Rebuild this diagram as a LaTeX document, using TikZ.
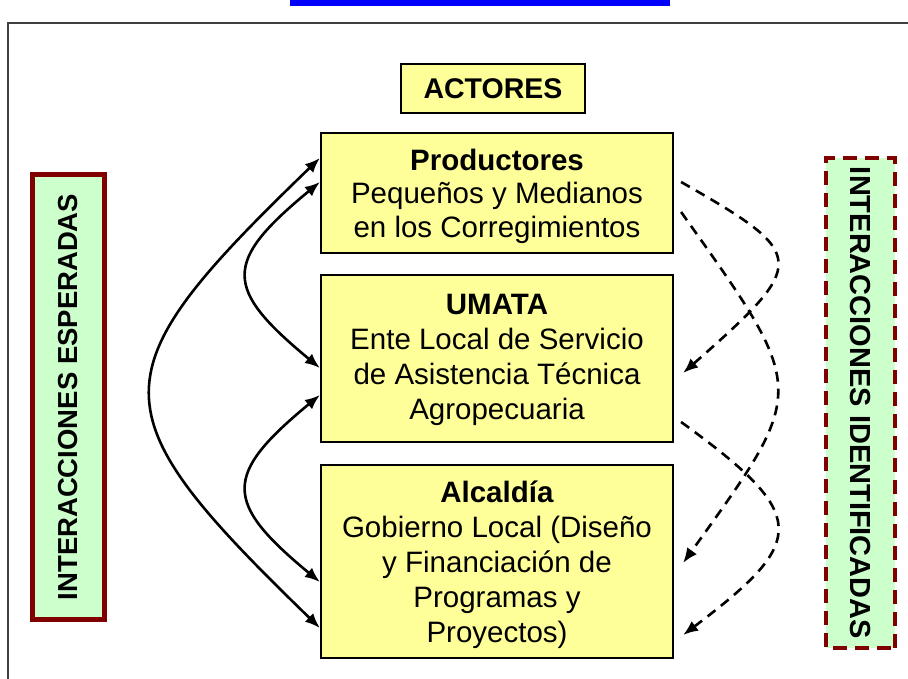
\documentclass[tikz,border=0pt]{standalone}
\usepackage{fontspec}
\setmainfont{Liberation Sans}
\usetikzlibrary{arrows.meta}
\definecolor{boxyellow}{HTML}{FFFF99}
\definecolor{sidegreen}{HTML}{CCFFCC}
\definecolor{darkred}{HTML}{800000}
\definecolor{linkblue}{HTML}{0000FF}
\begin{document}
\begin{tikzpicture}[x=1pt,y=-1pt,
  actorbox/.style={draw=black, line width=2.2pt, fill=boxyellow, inner sep=0pt},
  actortext/.style={align=center, inner sep=0pt, font=\fontsize{29.5}{35}\selectfont},
  sidebox/.style={draw=darkred, fill=sidegreen, inner sep=0pt, font=\bfseries\fontsize{27.5}{30}\selectfont},
  both/.style={line width=2.6pt, {Latex[length=15pt,width=12pt]}-{Latex[length=15pt,width=12pt]}},
  dashedarrow/.style={line width=2.6pt, dash pattern=on 10pt off 7pt, -{Latex[length=15pt,width=12pt]}},
]
\useasboundingbox (0,0) rectangle (908,679);
\node[fill=linkblue, inner sep=0pt, minimum width=380pt, minimum height=6pt] (link) at (480,3) {};
\draw[line width=2pt, black!75] (8,679) -- (8,23) -- (908,23);

\node[actorbox, minimum width=184pt, minimum height=49pt, font=\bfseries\fontsize{28.5}{30}\selectfont] (actores) at (493,88.5) {ACTORES};

\node[actorbox, minimum width=352pt, minimum height=120pt] (prod) at (497,193) {};
\node[actortext, font=\fontsize{29.5}{33.5}\selectfont] (prodtext) at ([yshift=-3pt]prod.center)
  {\textbf{Productores}\\Pequeños y Medianos\\en los Corregimientos};
\node[actorbox, minimum width=352pt, minimum height=167pt] (umata) at (497,358.5) {};
\node[actortext] (umatatext) at ([yshift=-1pt]umata.center)
  {\textbf{UMATA}\\Ente Local de Servicio\\de Asistencia Técnica\\Agropecuaria};
\node[actorbox, minimum width=352pt, minimum height=193pt] (alc) at (497,561.5) {};
\node[actortext] (alctext) at ([yshift=-3pt]alc.center)
  {\textbf{Alcaldía}\\Gobierno Local (Diseño\\y Financiación de\\Programas y\\Proyectos)};

\node[sidebox, line width=5pt, rotate=90, minimum width=445pt, minimum height=72pt] (esperadas) at (68.5,397) {INTERACCIONES ESPERADAS};
\node[sidebox, line width=4pt, dash pattern=on 14pt off 8pt, rotate=-90, minimum width=490pt, minimum height=69pt, font=\bfseries\fontsize{29}{30}\selectfont] (identificadas) at (860.5,403) {INTERACCIONES IDENTIFICADAS};

% expected interactions
\draw[both] ([yshift=35pt]prod.west) .. controls (95,375) and (95,410) .. ([yshift=-66.5pt]alc.west);
\draw[both] ([yshift=11pt]prod.west) .. controls (223,262) and (223,288) .. ([yshift=-9.5pt]umata.west);
\draw[both] ([yshift=-36.5pt]umata.west) .. controls (223,475) and (223,502) .. ([yshift=-20.5pt]alc.west);

% identified interactions
\draw[dashedarrow] ([xshift=7pt,yshift=11pt]prod.east) .. controls (809,255) and (809,262) .. ([xshift=9pt,yshift=-14.5pt]umata.east);
\draw[dashedarrow] ([xshift=7pt,yshift=-19pt]prod.east) .. controls (809,392) and (809,388) .. ([xshift=9pt,yshift=-1.5pt]alc.east);
\draw[dashedarrow] ([xshift=7pt,yshift=-63.5pt]umata.east) .. controls (809,515) and (809,540) .. ([xshift=9pt,yshift=-73.5pt]alc.east);
\end{tikzpicture}
\end{document}
